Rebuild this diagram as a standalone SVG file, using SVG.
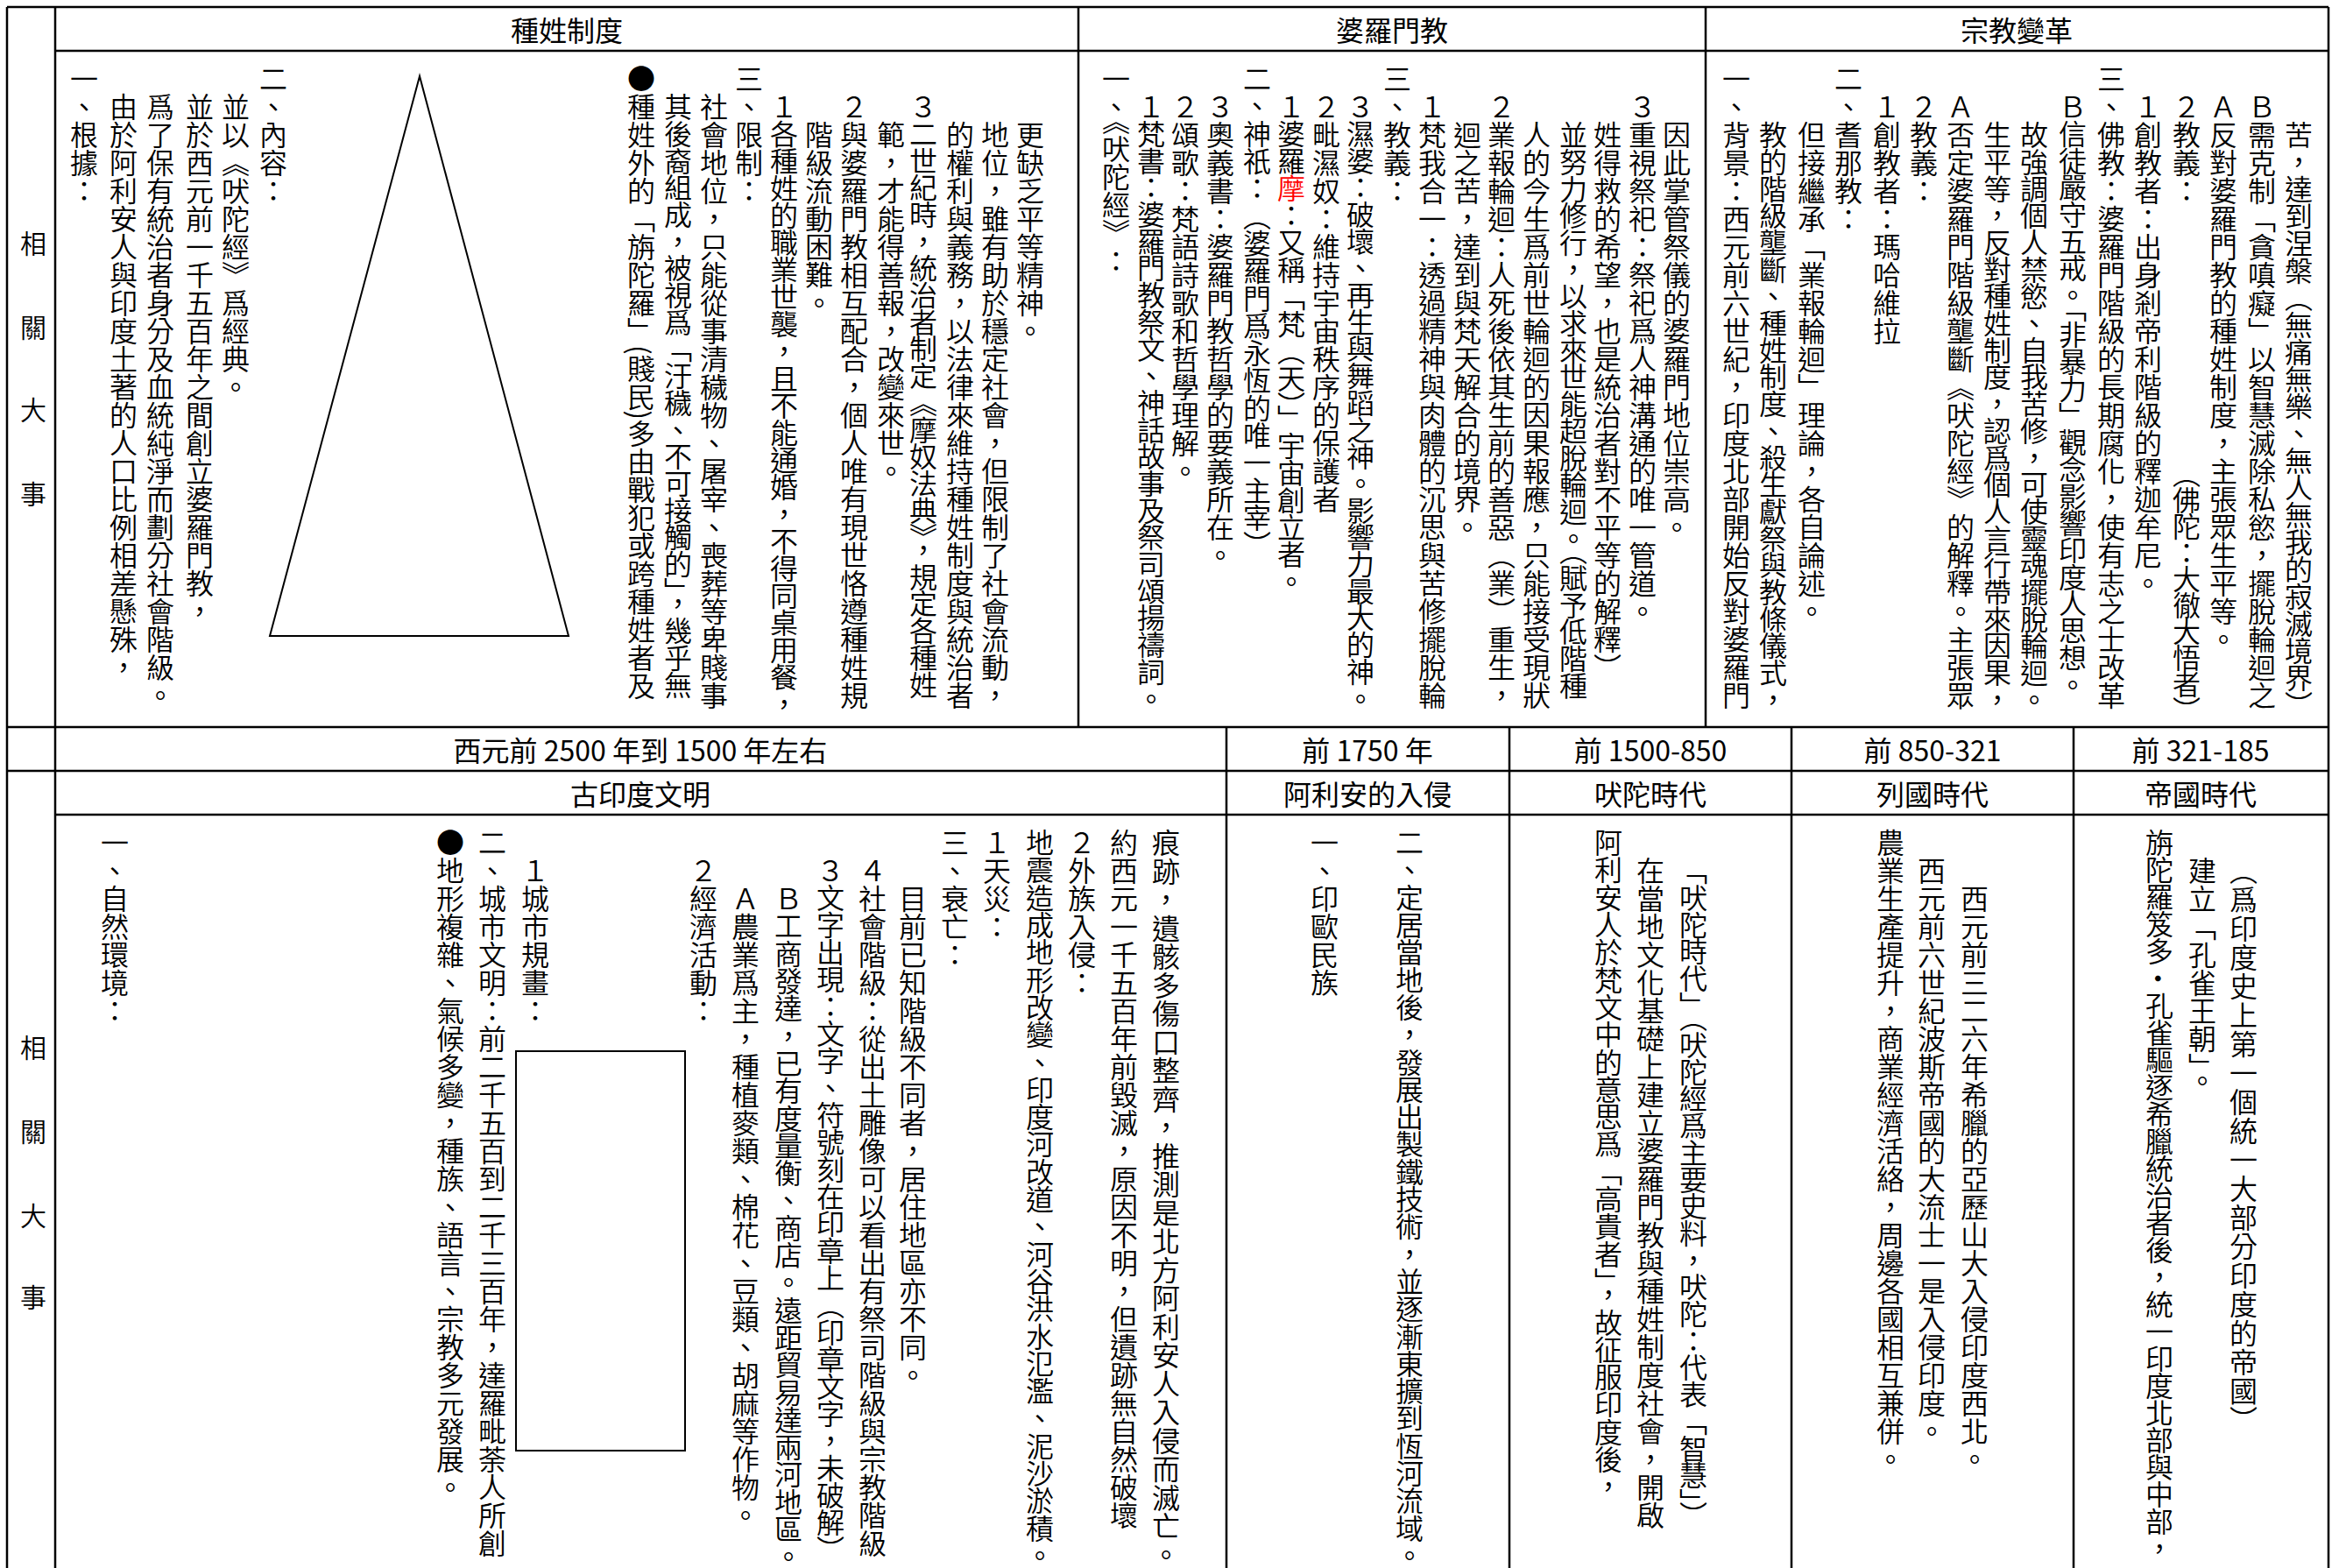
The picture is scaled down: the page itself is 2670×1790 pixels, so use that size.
<svg xmlns="http://www.w3.org/2000/svg" width="2670" height="1790" viewBox="0 0 2670 1790">
<style>
text{font-family:"Noto Sans CJK TC","Noto Sans CJK SC",sans-serif;fill:#000}
.h{font-size:32px;text-anchor:middle;dominant-baseline:central}
.lab{font-size:30px;text-anchor:middle;dominant-baseline:central;font-weight:350}
.v{font-size:32px;writing-mode:vertical-rl;font-weight:350}
.n1{letter-spacing:-1px}
.n13{letter-spacing:-1.3px}
.n07{letter-spacing:-0.7px}
.n2{letter-spacing:-2px}
.p05{letter-spacing:0.5px}
.p1{letter-spacing:1px}
.ln{stroke:#000;stroke-width:2.5;fill:none}
.sh{stroke:#000;stroke-width:2;fill:none}
.red{fill:#ff0000}
</style>
<rect width="2670" height="1790" fill="#fff"/>
<g id="grid">
<line class="ln" x1="8" y1="8" x2="2658" y2="8"/>
<line class="ln" x1="8" y1="8" x2="8" y2="1790"/>
<line class="ln" x1="2658" y1="8" x2="2658" y2="1790"/>
<line class="ln" x1="63" y1="8" x2="63" y2="1790"/>
<line class="ln" x1="63" y1="58" x2="2658" y2="58"/>
<line class="ln" x1="8" y1="830" x2="2658" y2="830"/>
<line class="ln" x1="8" y1="880" x2="2658" y2="880"/>
<line class="ln" x1="63" y1="930" x2="2658" y2="930"/>
<line class="ln" x1="1231" y1="8" x2="1231" y2="830"/>
<line class="ln" x1="1947" y1="8" x2="1947" y2="830"/>
<line class="ln" x1="1400" y1="830" x2="1400" y2="1790"/>
<line class="ln" x1="1723" y1="830" x2="1723" y2="1790"/>
<line class="ln" x1="2045" y1="830" x2="2045" y2="1790"/>
<line class="ln" x1="2367" y1="830" x2="2367" y2="1790"/>
</g>
<g id="side-labels">
<text class="lab" x="38" y="276">相</text>
<text class="lab" x="38" y="372">關</text>
<text class="lab" x="38" y="466">大</text>
<text class="lab" x="38" y="562">事</text>
<text class="lab" x="38" y="1194">相</text>
<text class="lab" x="38" y="1290">關</text>
<text class="lab" x="38" y="1386">大</text>
<text class="lab" x="38" y="1479">事</text>
</g>
<g id="headers">
<text class="h" x="647" y="33">種姓制度</text>
<text class="h" x="1589" y="33">婆羅門教</text>
<text class="h" x="2302" y="33">宗教變革</text>
<text class="h" x="731" y="855">西元前 2500 年到 1500 年左右</text>
<text class="h" x="1561" y="855">前 1750 年</text>
<text class="h" x="1884" y="855">前 1500-850</text>
<text class="h" x="2206" y="855">前 850-321</text>
<text class="h" x="2512" y="855">前 321-185</text>
<text class="h" x="731" y="905">古印度文明</text>
<text class="h" x="1561" y="905">阿利安的入侵</text>
<text class="h" x="1884" y="905">吠陀時代</text>
<text class="h" x="2206" y="905">列國時代</text>
<text class="h" x="2512" y="905">帝國時代</text>
</g>
<g id="caste">
<polygon class="sh" points="479,87 308,726 649,726"/>
<text class="v" x="312" y="74">二、內容：</text>
<text class="v" x="269" y="106">並以《吠陀經》爲經典。</text>
<text class="v" x="228" y="106">並於西元前一千五百年之間創立婆羅門教，</text>
<text class="v" x="183" y="106">爲了保有統治者身分及血統純淨而劃分社會階級。</text>
<text class="v" x="141" y="106">由於阿利安人與印度土著的人口比例相差懸殊，</text>
<text class="v" x="96" y="74">一、根據：</text>
<text class="v" x="1176" y="138">更缺乏平等精神。</text>
<text class="v" x="1136" y="138">地位，雖有助於穩定社會，但限制了社會流動，</text>
<text class="v" x="1096" y="138">的權利與義務，以法律來維持種姓制度與統治者</text>
<text class="v n13" x="1054" y="106">３二世紀時，統治者制定《摩奴法典》，規定各種姓</text>
<text class="v" x="1017" y="138">範，才能得善報，改變來世。</text>
<text class="v" x="975" y="106">２與婆羅門教相互配合，個人唯有現世恪遵種姓規</text>
<text class="v" x="935" y="138">階級流動困難。</text>
<text class="v n1" x="895" y="106">１各種姓的職業世襲，且不能通婚，不得同桌用餐，</text>
<text class="v" x="855" y="74">三、限制：</text>
<text class="v" x="815" y="106">社會地位，只能從事清穢物、屠宰、喪葬等卑賤事</text>
<text class="v n13" x="774" y="106">其後裔組成，被視爲「汙穢、不可接觸的」，幾乎無</text>
<text class="v" x="732" y="74">●種姓外的「旃陀羅」(賤民)多由戰犯或跨種姓者及</text>
</g>
<g id="brahmanism">
<text class="v" x="1914" y="138">因此掌管祭儀的婆羅門地位崇高。</text>
<text class="v" x="1875" y="106">３重視祭祀：祭祀爲人神溝通的唯一管道。</text>
<text class="v" x="1835" y="138">姓得救的希望，也是統治者對不平等的解釋）</text>
<text class="v n13" x="1796" y="138">並努力修行，以求來世能超脫輪迴。（賦予低階種</text>
<text class="v" x="1754" y="138">人的今生爲前世輪迴的因果報應，只能接受現狀</text>
<text class="v" x="1714" y="106">２業報輪迴：人死後依其生前的善惡（業）重生，</text>
<text class="v" x="1675" y="138">迴之苦，達到與梵天解合的境界。</text>
<text class="v" x="1635" y="106">１梵我合一：透過精神與肉體的沉思與苦修擺脫輪</text>
<text class="v" x="1595" y="74">三、教義：</text>
<text class="v n13" x="1553" y="106">３濕婆：破壞、再生與舞蹈之神。影響力最大的神。</text>
<text class="v" x="1514" y="106">２毗濕奴：維持宇宙秩序的保護者</text>
<text class="v n1" x="1474" y="106">１婆羅<tspan class="red">摩</tspan>：又稱「梵（天）」宇宙創立者。</text>
<text class="v n07" x="1435" y="74">二、神祇：（婆羅門爲永恆的唯一主宰）</text>
<text class="v" x="1393" y="106">３奧義書：婆羅門教哲學的要義所在。</text>
<text class="v" x="1353" y="106">２頌歌：梵語詩歌和哲學理解。</text>
<text class="v n13" x="1314" y="106">１梵書：婆羅門教祭文、神話故事及祭司頌揚禱詞。</text>
<text class="v" x="1274" y="74">一、《吠陀經》：</text>
</g>
<g id="reform">
<text class="v n1" x="2624" y="138">苦，達到涅槃（無痛無樂、無人無我的寂滅境界）</text>
<text class="v" x="2582" y="106">Ｂ需克制「貪嗔癡」以智慧滅除私慾，擺脫輪迴之</text>
<text class="v" x="2538" y="106">Ａ反對婆羅門教的種姓制度，主張眾生平等。</text>
<text class="v" x="2496" y="106">２教義：</text>
<text class="v n2" x="2496" y="525">（佛陀：大徹大悟者）</text>
<text class="v" x="2452" y="106">１創教者：出身剎帝利階級的釋迦牟尼。</text>
<text class="v" x="2410" y="74">三、佛教：婆羅門階級的長期腐化，使有志之士改革</text>
<text class="v n13" x="2366" y="106">Ｂ信徒嚴守五戒。「非暴力」觀念影響印度人思想。</text>
<text class="v n13" x="2322" y="138">故強調個人禁慾、自我苦修，可使靈魂擺脫輪迴。</text>
<text class="v n13" x="2280" y="138">生平等，反對種姓制度，認爲個人言行帶來因果，</text>
<text class="v" x="2238" y="106">Ａ否定婆羅門階級壟斷《吠陀經》的解釋。主張眾</text>
<text class="v" x="2196" y="106">２教義：</text>
<text class="v" x="2154" y="106">１創教者：瑪哈維拉</text>
<text class="v" x="2110" y="74">二、耆那教：</text>
<text class="v" x="2068" y="138">但接繼承「業報輪迴」理論，各自論述。</text>
<text class="v n13" x="2024" y="138">教的階級壟斷、種姓制度、殺生獻祭與教條儀式，</text>
<text class="v" x="1982" y="74">一、背景：西元前六世紀，印度北部開始反對婆羅門</text>
</g>
<g id="ancient-india">
<text class="v" x="131" y="946">一、自然環境：</text>
<text class="v" x="514" y="946">●地形複雜、氣候多變，種族、語言、宗教多元發展。</text>
<text class="v" x="562" y="946">二、城市文明：前二千五百到二千三百年，達羅毗荼人所創</text>
<text class="v" x="611" y="978">１城市規畫：</text>
<rect class="sh" x="589" y="1200" width="193" height="456"/>
<text class="v" x="803" y="978">２經濟活動：</text>
<text class="v" x="851" y="1010">Ａ農業爲主，種植麥類、棉花、豆類、胡麻等作物。</text>
<text class="v n07" x="900" y="1010">Ｂ工商發達，已有度量衡、商店。遠距貿易達兩河地區。</text>
<text class="v n1" x="948" y="978">３文字出現：文字、符號刻在印章上（印章文字，未破解）</text>
<text class="v" x="996" y="978">４社會階級：從出土雕像可以看出有祭司階級與宗教階級</text>
<text class="v" x="1042" y="1010">目前已知階級不同者，居住地區亦不同。</text>
<text class="v" x="1090" y="946">三、衰亡：</text>
<text class="v" x="1138" y="946">１天災：</text>
<text class="v n07" x="1187" y="946">地震造成地形改變、印度河改道、河谷洪水氾濫、泥沙淤積。</text>
<text class="v" x="1235" y="946">２外族入侵：</text>
<text class="v" x="1283" y="946">約西元一千五百年前毀滅，原因不明，但遺跡無自然破壞</text>
<text class="v p05" x="1331" y="946">痕跡，遺骸多傷口整齊，推測是北方阿利安人入侵而滅亡。</text>
</g>
<g id="aryan">
<text class="v" x="1512" y="946">一、印歐民族</text>
<text class="v n07" x="1609" y="946">二、定居當地後，發展出製鐵技術，並逐漸東擴到恆河流域。</text>
</g>
<g id="vedic">
<text class="v n07" x="1836" y="946">阿利安人於梵文中的意思爲「高貴者」，故征服印度後，</text>
<text class="v" x="1884" y="978">在當地文化基礎上建立婆羅門教與種姓制度社會，開啟</text>
<text class="v n13" x="1933" y="978">「吠陀時代」（吠陀經爲主要史料，吠陀：代表「智慧」）</text>
</g>
<g id="kingdoms">
<text class="v" x="2158" y="946">農業生產提升，商業經濟活絡，周邊各國相互兼併。</text>
<text class="v" x="2205" y="978">西元前六世紀波斯帝國的大流士一是入侵印度。</text>
<text class="v" x="2254" y="1010">西元前三二六年希臘的亞歷山大入侵印度西北。</text>
</g>
<g id="empire">
<text class="v n1" x="2465" y="946">旃陀羅笈多•孔雀驅逐希臘統治者後，統一印度北部與中部，</text>
<text class="v" x="2514" y="978">建立「孔雀王朝」。</text>
<text class="v p1" x="2561" y="978">（爲印度史上第一個統一大部分印度的帝國）</text>
</g>
</svg>
